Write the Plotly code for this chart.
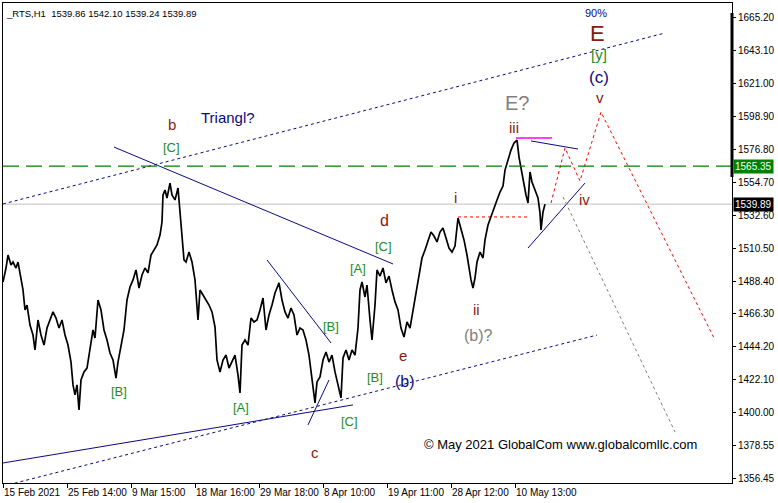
import plotly.graph_objects as go

# ---------------- data ----------------
symbol_title = "_RTS,H1  1539.86 1542.10 1539.24 1539.89"

bar_idx = [0, 3, 5, 8, 10, 13, 15, 18, 20, 22, 24, 27, 30, 32, 35, 38, 41, 44, 47, 50,
           53, 56, 59, 62, 65, 68, 70, 72, 74, 76, 78, 81, 84, 87, 90, 92, 95, 98, 101, 104,
           107, 110, 113, 115, 118, 121, 124, 127, 130, 133, 136, 139, 142, 145, 148, 151, 154, 157, 159, 160,
           162, 164, 167, 169, 172, 175, 177, 179, 181, 183, 186, 189, 192, 195, 197, 200, 203, 206, 209, 212,
           214, 217, 220, 223, 226, 229, 232, 235, 237, 239, 242, 245, 248, 251, 254, 257, 260, 263, 266, 269,
           272, 276, 279, 282, 285, 288, 291, 294, 297, 300, 303, 306, 309, 312, 314, 317, 320, 323, 326, 329,
           332, 335, 338, 340, 343, 346, 349, 352, 355, 357, 359, 362, 364, 367, 369, 372, 374, 377, 380, 383,
           386, 389, 392, 395, 398, 401, 404, 407, 410, 413, 416, 419, 422, 425, 428, 431, 434, 437, 440, 443,
           446, 449, 452, 455, 458, 461, 464, 466, 468, 470, 472, 474, 477, 480, 482, 485, 488, 491, 494, 497,
           500, 502, 505, 508, 511, 514, 516, 518, 520, 523, 525, 527, 529, 532, 535, 537, 538, 540, 542]
close = [1487.7, 1497.1, 1505.8, 1499.1, 1501.1, 1497.1, 1501.1, 1489.1, 1482.4, 1469.0,
         1472.3, 1458.9, 1452.2, 1442.2, 1462.3, 1452.2, 1445.5, 1456.9, 1462.3, 1467.7,
         1463.6, 1456.9, 1462.3, 1452.2, 1445.5, 1434.1, 1418.8, 1412.1, 1418.8, 1402.0,
         1422.1, 1427.5, 1430.1, 1442.2, 1455.6, 1450.2, 1475.7, 1469.0, 1455.6, 1448.9,
         1440.2, 1435.5, 1423.4, 1434.1, 1445.5, 1455.6, 1475.7, 1484.4, 1489.1, 1495.8,
         1483.7, 1492.4, 1497.1, 1493.8, 1505.8, 1509.2, 1512.5, 1519.2, 1527.9, 1546.0,
         1549.3, 1544.0, 1554.0, 1546.0, 1542.7, 1550.7, 1532.6, 1521.2, 1502.5, 1501.1,
         1507.8, 1501.1, 1489.1, 1462.3, 1482.4, 1479.0, 1475.7, 1472.3, 1467.7, 1457.6,
         1435.5, 1427.5, 1435.5, 1438.8, 1430.1, 1434.1, 1438.8, 1425.4, 1413.4, 1445.5,
         1448.9, 1445.5, 1463.6, 1460.9, 1462.3, 1469.0, 1477.0, 1455.6, 1465.6, 1472.3,
         1480.4, 1487.1, 1475.7, 1467.7, 1463.6, 1470.3, 1465.6, 1452.2, 1456.9, 1455.6,
         1448.9, 1438.8, 1423.4, 1406.7, 1420.8, 1424.1, 1435.5, 1440.8, 1434.1, 1438.8,
         1427.5, 1418.8, 1410.1, 1436.8, 1442.2, 1435.5, 1442.2, 1438.8, 1456.9, 1482.4,
         1487.7, 1477.7, 1485.7, 1462.3, 1448.9, 1472.3, 1495.8, 1491.7, 1497.1, 1487.1,
         1491.7, 1482.4, 1474.4, 1469.0, 1456.9, 1450.9, 1461.0, 1456.9, 1469.0, 1482.4,
         1494.4, 1503.8, 1509.2, 1515.9, 1521.2, 1518.5, 1514.6, 1521.2, 1523.9, 1517.2,
         1510.5, 1507.8, 1511.8, 1530.6, 1523.9, 1515.9, 1505.8, 1497.1, 1489.1, 1483.7,
         1490.4, 1501.1, 1507.8, 1503.8, 1515.9, 1525.9, 1531.9, 1537.3, 1542.7, 1548.0,
         1552.0, 1562.7, 1569.4, 1576.1, 1580.8, 1582.8, 1571.4, 1564.1, 1556.0, 1546.0,
         1540.6, 1561.4, 1554.7, 1549.3, 1544.0, 1534.0, 1522.6, 1534.6, 1539.9]

x_tick_bars = [0, 64, 128, 192, 256, 320, 384, 448, 512]
x_tick_labels = ["15 Feb 2021", "25 Feb 14:00", "9 Mar 15:00", "18 Mar 16:00", "29 Mar 18:00",
                 "8 Apr 10:00", "19 Apr 11:00", "28 Apr 12:00", "10 May 13:00"]
y_tick_vals = [1665.20, 1643.10, 1621.00, 1598.90, 1576.80, 1554.70, 1532.60, 1510.50,
               1488.40, 1466.30, 1444.20, 1422.10, 1400.00, 1378.55, 1356.45]

level_green = 1565.35
last_price = 1539.89

# trend lines (bar, price)
chan_upper_x, chan_upper_y = [0, 662], [1540.0, 1654.5]
chan_lower_x, chan_lower_y = [0, 594], [1351.0, 1452.2]
tri_lower_x, tri_lower_y = [0, 350], [1366.5, 1405.4]
tri_upper_x, tri_upper_y = [111, 390], [1578.1, 1499.8]
wedge1_x, wedge1_y = [264, 328], [1502.5, 1446.9]
wedge2_x, wedge2_y = [305, 326], [1392.0, 1422.1]
wedge3_x, wedge3_y = [528, 575], [1582.2, 1576.8]
wedge4_x, wedge4_y = [525, 582], [1510.5, 1554.0]
top_mark_x, top_mark_y = [513, 549], [1584.2, 1584.2]
wave_i_x, wave_i_y = [455, 524], [1531.3, 1531.3]
fcst_red_x = [548, 562, 577, 598, 712]
fcst_red_y = [1540.6, 1577.5, 1555.4, 1601.6, 1448.9]
fcst_grey_x, fcst_grey_y = [560, 672], [1544.7, 1387.3]

# ---------------- figure ----------------
NAVY = "#0a0a80"
MAROON = "#8b1a10"
GREEN = "#1e8c1e"
GREY = "#808080"

fig = go.Figure()

def line(x, y, color, dash="solid", width=1.0):
    fig.add_trace(go.Scatter(x=x, y=y, mode="lines", line=dict(color=color, width=width, dash=dash),
                             hoverinfo="skip", showlegend=False))

line(chan_upper_x, chan_upper_y, NAVY, "3px,3px")
line(chan_lower_x, chan_lower_y, NAVY, "3px,3px")
line(tri_lower_x, tri_lower_y, NAVY)
line(tri_upper_x, tri_upper_y, NAVY)
line(wedge1_x, wedge1_y, NAVY)
line(wedge2_x, wedge2_y, NAVY)
line(wedge3_x, wedge3_y, NAVY)
line(wedge4_x, wedge4_y, NAVY)
line(top_mark_x, top_mark_y, "#ff00ff", width=1.5)
line(wave_i_x, wave_i_y, "#ff0000", "3px,3px")
line(fcst_red_x, fcst_red_y, "#ff0000", "3px,3px")
line(fcst_grey_x, fcst_grey_y, GREY, "3px,3px")

fig.add_trace(go.Scatter(x=bar_idx, y=close, mode="lines", line=dict(color="black", width=1.7),
                         hoverinfo="skip", showlegend=False))

fig.add_shape(type="line", xref="paper", x0=0, x1=1, y0=last_price, y1=last_price,
              line=dict(color="#c0c0c0", width=1), layer="below")
fig.add_shape(type="line", xref="paper", x0=0, x1=1, y0=level_green, y1=level_green,
              line=dict(color="#008000", width=1.2, dash="16px,7px"))
fig.add_shape(type="line", xref="paper", x0=1, x1=1, y0=1558.0, y1=1667.9,
              line=dict(color="black", width=3))

AF = "Liberation Sans, Arial, sans-serif"
labels = [
    ("Triangl?", 225, 1598.2, NAVY, 15),
    ("b", 169, 1592.9, MAROON, 15),
    ("[C]", 168, 1578.1, GREEN, 13),
    ("[B]", 116, 1414.1, GREEN, 13),
    ("[A]", 238, 1404.0, GREEN, 13),
    ("[A]", 355, 1497.1, GREEN, 13),
    ("[B]", 328, 1457.6, GREEN, 13),
    ("[B]", 372, 1424.1, GREEN, 13),
    ("[C]", 346, 1394.6, GREEN, 13),
    ("[C]", 380, 1511.2, GREEN, 13),
    ("c", 312, 1373.2, MAROON, 15),
    ("e", 400, 1438.8, MAROON, 15),
    ("(b)", 402, 1421.4, NAVY, 16),
    ("d", 381, 1528.6, MAROON, 16),
    ("i", 452, 1544.0, MAROON, 15),
    ("ii", 473, 1469.0, MAROON, 15),
    ("(b)?", 475, 1452.2, GREY, 16),
    ("iii", 511, 1591.5, MAROON, 15),
    ("E?", 514, 1607.6, GREY, 20),
    ("iv", 581, 1543.3, MAROON, 15),
    ("v", 597, 1611.6, MAROON, 15),
    ("(c)", 596, 1625.0, NAVY, 17),
    ("[y]", 596, 1640.4, GREEN, 15),
    ("E", 594, 1654.5, MAROON, 22),
    ("90%", 593, 1667.9, NAVY, 11),
    ("© May 2021 GlobalCom www.globalcomllc.com", 557, 1378.6, "black", 13),
]
for txt, x, y, col, sz in labels:
    fig.add_annotation(x=x, y=y, text=txt, showarrow=False, xanchor="center", yanchor="middle",
                       font=dict(family=AF, size=sz, color=col))

fig.add_annotation(xref="paper", yref="paper", x=0.001, y=0.994, text=symbol_title, showarrow=False,
                   xanchor="left", yanchor="top", font=dict(family=AF, size=9.5, color="black"))

for val, bg in [(level_green, "#008000"), (last_price, "black")]:
    fig.add_annotation(xref="paper", x=1.0, y=val, text=f"{val:.2f}", showarrow=False,
                       xanchor="left", yanchor="middle", xshift=1,
                       bgcolor=bg, borderpad=1, font=dict(family=AF, size=10, color="white"))

fig.update_layout(
    width=778, height=503,
    margin=dict(l=3, r=46, t=3, b=20, autoexpand=False),
    paper_bgcolor="white", plot_bgcolor="white",
    showlegend=False, hovermode=False,
    xaxis=dict(range=[0, 729], showgrid=False, zeroline=False, showline=True, mirror=True,
               linecolor="black", linewidth=1, tickmode="array", tickvals=x_tick_bars,
               ticktext=x_tick_labels, ticks="outside", ticklen=4, tickcolor="black",
               ticklabelposition="outside right", tickangle=0, automargin=False,
               tickfont=dict(family=AF, size=10, color="black")),
    yaxis=dict(range=[1353.1, 1674.6], side="right", showgrid=False, zeroline=False, showline=True,
               mirror=True, linecolor="black", linewidth=1, tickmode="array", tickvals=y_tick_vals,
               ticktext=[f"{v:.2f}" for v in y_tick_vals], ticks="outside", ticklen=3,
               automargin=False,
               tickcolor="black", tickfont=dict(family=AF, size=10, color="black")),
)

fig.write_html("out.html", config={"displayModeBar": False, "staticPlot": True},
               post_script="document.body.style.margin='0';document.body.style.padding='0';")
